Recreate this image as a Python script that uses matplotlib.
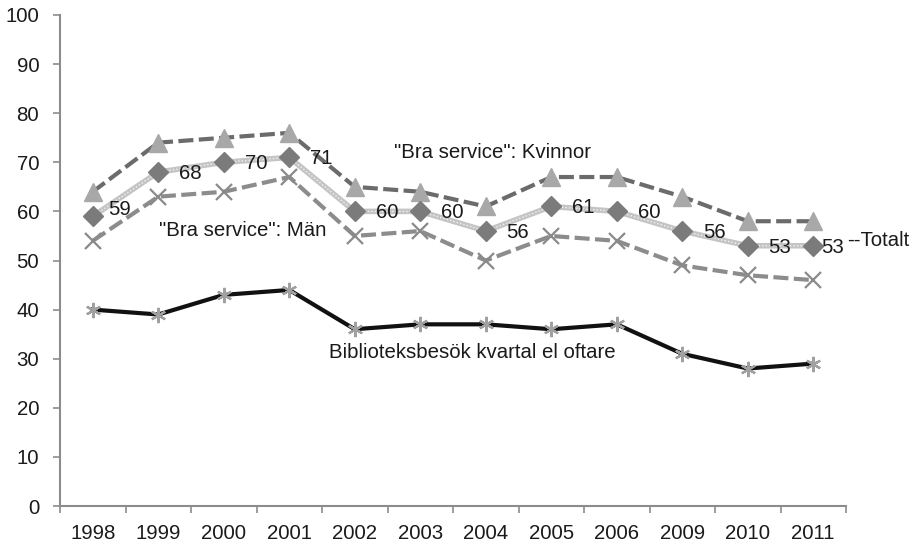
import matplotlib
matplotlib.use("Agg")
import matplotlib.pyplot as plt
import numpy as np

years = ["1998", "1999", "2000", "2001", "2002", "2003", "2004", "2005", "2006", "2009", "2010", "2011"]
kvinnor = [64, 74, 75, 76, 65, 64, 61, 67, 67, 63, 58, 58]
totalt = [59, 68, 70, 71, 60, 60, 56, 61, 60, 56, 53, 53]
man = [54, 63, 64, 67, 55, 56, 50, 55, 54, 49, 47, 46]
bibliotek = [40, 39, 43, 44, 36, 37, 37, 36, 37, 31, 28, 29]

plt.rcParams['font.family'] = ['Liberation Sans', 'DejaVu Sans']
FS = 14.7

fig = plt.figure(figsize=(9.17, 5.46), dpi=100)
ax = fig.add_axes([60/917, 1-506/546, (846-60)/917, (506-15)/546])
x = np.arange(len(years))

# Kvinnor
ax.plot(x, kvinnor, color='#6b6b6b', lw=3.0, dashes=(3.6, 1.3), zorder=3)
ax.plot(x, kvinnor, ls='none', marker='^', ms=13, color='#a8a8a8', zorder=6)
# Män
ax.plot(x, man, color='#8c8c8c', lw=3.0, dashes=(3.6, 1.3), zorder=3)
ax.plot(x, man, ls='none', marker='x', ms=11, mew=1.6, color='#8a8a8a', zorder=6)
# Totalt
ax.plot(x, totalt, color='#c4c4c4', lw=4.0, zorder=4, solid_capstyle='butt')
ax.plot(x, totalt, color='#f2f2f2', lw=1.0, dashes=(1, 1.5), zorder=4)
ax.plot(x, totalt, ls='none', marker='D', ms=10, color='#7b7b7b', zorder=6)
# Biblioteksbesök
ax.plot(x, bibliotek, color='#111111', lw=3.0, zorder=3)
ax.plot(x, bibliotek, ls='none', marker=(6, 2, 0), ms=11, mew=1.6, color='#a0a0a0', zorder=6)

for i, v in enumerate(totalt):
    dx, dy = 15, -1
    if i == 0:
        dx, dy = 11, 5
    if i == len(totalt) - 1:
        dx, dy = 6, -1
    ax.annotate(str(v), (x[i], v), xytext=(dx, dy), textcoords='offset points',
                ha='left', va='center', fontsize=FS, color='#1a1a1a', zorder=7)

ax.text(6.1, 71.9, '"Bra service": Kvinnor', fontsize=FS, ha='center', va='center', color='#1a1a1a')
ax.text(2.29, 56.2, '"Bra service": Män', fontsize=FS, ha='center', va='center', color='#1a1a1a')
ax.text(5.79, 31.2, 'Biblioteksbesök kvartal el oftare', fontsize=FS, ha='center', va='center', color='#1a1a1a')
ax.text(11.52, 54.1, '--Totalt', fontsize=FS, ha='left', va='center', color='#1a1a1a', clip_on=False)

ax.set_xlim(-0.5, 11.5)
ax.set_ylim(0, 100)
ax.set_yticks(np.arange(0, 101, 10))
ax.set_xticks(np.arange(-0.5, 12, 1))
ax.set_xticklabels([])
ax.set_xticks(x, minor=True)
ax.set_xticklabels(years, minor=True)
ax.tick_params(axis='x', which='minor', length=0, pad=13, labelsize=FS, labelcolor='#1a1a1a')
ax.tick_params(axis='x', which='major', length=5, width=1.2, color='#8c8c8c', direction='out')
ax.tick_params(axis='y', length=5, width=1.2, color='#8c8c8c', pad=10, labelsize=FS, labelcolor='#1a1a1a')

for s in ['top', 'right']:
    ax.spines[s].set_visible(False)
for s in ['left', 'bottom']:
    ax.spines[s].set_color('#8c8c8c')
    ax.spines[s].set_linewidth(1.5)

fig.savefig('out.png', dpi=100)
